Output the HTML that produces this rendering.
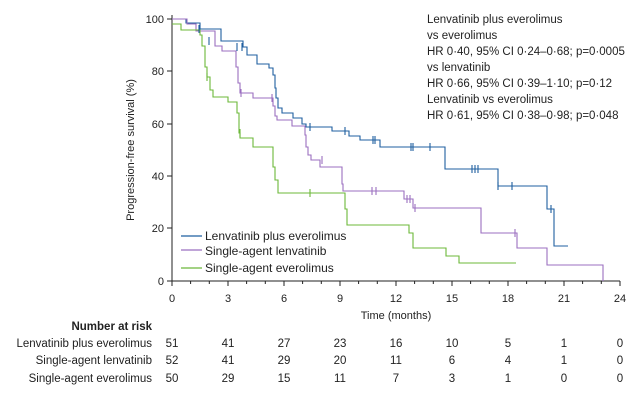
<!DOCTYPE html>
<html><head><meta charset="utf-8"><style>
body{margin:0;background:#fff}
svg{display:block;font-family:"Liberation Sans",sans-serif}
</style></head><body>
<svg width="631" height="400" viewBox="0 0 631 400">
<rect width="631" height="400" fill="#fff"/>
<g stroke="#222" stroke-width="1" fill="none">
<path d="M172,15 V281 H620"/>
<path d="M167,19H172M167,71H172M167,124H172M167,176H172M167,228H172M167,281H172"/>
<path d="M172,281v5M190.6,281v3M209.3,281v3M228,281v5M246.6,281v3M265.3,281v3M284,281v5M302.6,281v3M321.3,281v3M340,281v5M358.6,281v3M377.3,281v3M396,281v5M414.6,281v3M433.3,281v3M452,281v5M470.6,281v3M489.3,281v3M508,281v5M526.6,281v3M545.3,281v3M564,281v5M582.6,281v3M601.3,281v3M620,281v5"/>
</g>
<g font-size="11" fill="#222" text-anchor="end">
<text x="164" y="23">100</text><text x="164" y="75">80</text><text x="164" y="128">60</text><text x="164" y="180">40</text><text x="164" y="232">20</text><text x="164" y="285">0</text>
</g>
<g font-size="11" fill="#222" text-anchor="middle">
<text x="172" y="302">0</text><text x="228" y="302">3</text><text x="284" y="302">6</text><text x="340" y="302">9</text><text x="396" y="302">12</text><text x="452" y="302">15</text><text x="508" y="302">18</text><text x="564" y="302">21</text><text x="620" y="302">24</text>
<text x="396" y="319">Time (months)</text>
<text transform="translate(134,150) rotate(-90)">Progression-free survival (%)</text>
</g>
<g fill="none" stroke-width="1.1">
<path stroke="#1f5fa0" d="M172,19 H186 V23 H200 V29 H221 V41 H243 V47 H247 V55 H257 V64 H269 V68 H273 V75 H275 V88 H276 V98 H278 V108 H282 V113 H293 V118 H302 V124 H306 V127 H332 V131 H349 V136 H360 V140 H380 V147 H445 V169 H498 V186 H547 V209 H554 V246 H568"/>
<path stroke="#9b6fc0" d="M172,19 H187 V24 H196 V31 H215 V46 H222 V51 H236 V67 H238 V83 H240 V93 H253 V98 H273 V106 H275 V116 H277 V120 H292 V126 H305 V135 H306 V147 H308 V155 H311 V160 H320 V167 H342 V184 H343 V191 H404 V199 H413 V208 H481 V233 H517 V248 H547 V265 H603 V281"/>
<path stroke="#6cb83a" d="M172,24 H181 V30 H200 V35 H202 V46 H205 V67 H207 V77 H210 V90 H213 V97 H228 V102 H237 V113 H239 V133 H240 V138 H253 V147 H273 V167 H275 V180 H278 V193 H303 V193 H345 V209 H347 V225 H409 V233 H413 V248 H446 V256 H459 V263 H516"/>
</g>
<g stroke-width="1.1">
<path stroke="#1f5fa0" d="M199,25v8M209,37v8M237,43v8M242,43v8M310,123v8M345,127v8M373,136v8M375,136v8M411,143v8M413,143v8M430,143v8M472,165v8M475,165v8M478,165v8M498,182v8M512,182v8M551,205v8"/>
<path stroke="#9b6fc0" d="M241,89v8M272,94v8M322,156v8M372,187v8M376,187v8M407,195v8M410,195v8M415,204v8M515,229v8"/>
<path stroke="#6cb83a" d="M207,73v8M240,129v8M310,189v8"/>
</g>
<line x1="181" y1="236" x2="202" y2="236" stroke="#1f5fa0" stroke-width="1.3"/>
<line x1="181" y1="250" x2="202" y2="250" stroke="#9b6fc0" stroke-width="1.3"/>
<line x1="181" y1="268" x2="202" y2="268" stroke="#6cb83a" stroke-width="1.3"/>
<g font-size="12" fill="#222">
<text x="205" y="240">Lenvatinib plus everolimus</text>
<text x="205" y="255">Single-agent lenvatinib</text>
<text x="205" y="272">Single-agent everolimus</text>
</g>
<g font-size="11.5" fill="#222">
<text x="427" y="23">Lenvatinib plus everolimus</text>
<text x="427" y="39">vs everolimus</text>
<text x="427" y="55">HR 0·40, 95% CI 0·24–0·68; p=0·0005</text>
<text x="427" y="71">vs lenvatinib</text>
<text x="427" y="87">HR 0·66, 95% CI 0·39–1·10; p=0·12</text>
<text x="427" y="103">Lenvatinib vs everolimus</text>
<text x="427" y="119">HR 0·61, 95% CI 0·38–0·98; p=0·048</text>
</g>
<g font-size="11.5" fill="#222" text-anchor="end">
<text x="152" y="330" font-weight="bold">Number at risk</text>
<text x="152" y="347">Lenvatinib plus everolimus</text>
<text x="152" y="364">Single-agent lenvatinib</text>
<text x="152" y="382">Single-agent everolimus</text>
</g>
<g font-size="11.5" fill="#222" text-anchor="middle">
<text x="172" y="347">51</text><text x="228" y="347">41</text><text x="284" y="347">27</text><text x="340" y="347">23</text><text x="396" y="347">16</text><text x="452" y="347">10</text><text x="508" y="347">5</text><text x="564" y="347">1</text><text x="620" y="347">0</text>
<text x="172" y="364">52</text><text x="228" y="364">41</text><text x="284" y="364">29</text><text x="340" y="364">20</text><text x="396" y="364">11</text><text x="452" y="364">6</text><text x="508" y="364">4</text><text x="564" y="364">1</text><text x="620" y="364">0</text>
<text x="172" y="382">50</text><text x="228" y="382">29</text><text x="284" y="382">15</text><text x="340" y="382">11</text><text x="396" y="382">7</text><text x="452" y="382">3</text><text x="508" y="382">1</text><text x="564" y="382">0</text><text x="620" y="382">0</text>
</g>
</svg>
</body></html>
